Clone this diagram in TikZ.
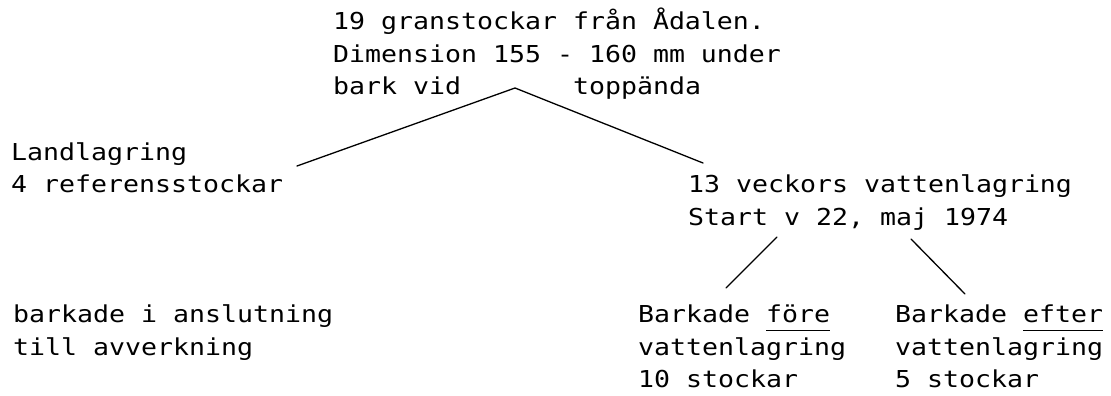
\documentclass[tikz,border=0pt]{standalone}
\usepackage{fontspec}
\newfontfamily\typewriter[FakeStretch=1.14]{DejaVu Sans Mono}
% typewriter-style underline a few points below the baseline
\newcommand\typeunder[1]{\setbox0\hbox{#1}\rlap{\rule[-8.5pt]{\wd0}{1.2pt}}\box0}
\begin{document}
\begin{tikzpicture}[x=1pt,y=-1pt,
  typed/.style={anchor=base west, inner sep=0pt,
    font=\typewriter\fontsize{23.3}{28}\selectfont},
  stroke/.style={line width=1.3pt, line cap=round}]
\useasboundingbox (0,0) rectangle (1111,396);

% root description
\node[typed] (root1) at (333,30)    {19 granstockar från Ådalen.};
\node[typed] (root2) at (333,62.5)  {Dimension 155 - 160 mm under};
\node[typed] (root3) at (333,95)    {bark vid};
\node[typed] (root4) at (573,95)    {toppända};

% left branch: storage on land
\node[typed] (land1) at (11,160)    {Landlagring};
\node[typed] (land2) at (11,192.5)  {4 referensstockar};
\node[typed] (land3) at (13,322.5)  {barkade i anslutning};
\node[typed] (land4) at (13,355)    {till avverkning};

% right branch: storage in water
\node[typed] (water1) at (688,192.5) {13 veckors vattenlagring};
\node[typed] (water2) at (688,225)   {Start v 22, maj 1974};

\node[typed] (pre1) at (638,322.5) {Barkade \typeunder{före}};
\node[typed] (pre2) at (638,355)   {vattenlagring};
\node[typed] (pre3) at (638,387.5) {10 stockar};

\node[typed] (post1) at (895,322.5) {Barkade \typeunder{efter}};
\node[typed] (post2) at (895,355)   {vattenlagring};
\node[typed] (post3) at (895,387.5) {5 stockar};

% branch points
\coordinate (apex)    at (515,88);
\coordinate (landend) at (297,166);
\coordinate (waterend) at (703,163);
\coordinate (preTop)  at (777,237);
\coordinate (preEnd)  at (726,288);
\coordinate (postTop) at (911,239);
\coordinate (postEnd) at (965,294);

\draw[stroke] (landend) -- (apex) -- (waterend);
\draw[stroke] (preTop) -- (preEnd);
\draw[stroke] (postTop) -- (postEnd);
\end{tikzpicture}
\end{document}
